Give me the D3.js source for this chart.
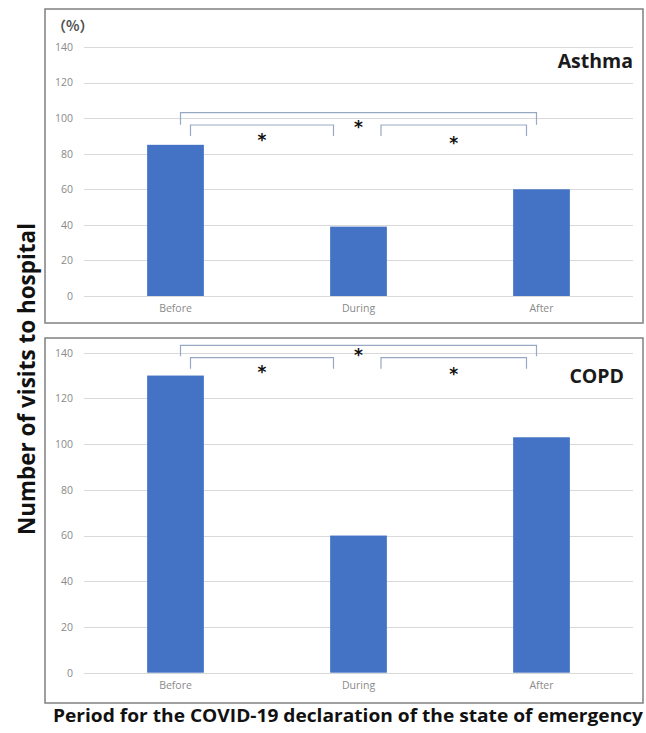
<!DOCTYPE html>
<html>
<head>
<meta charset="utf-8">
<script src="https://cdn.jsdelivr.net/npm/d3@7"></script>
<style>
  html, body { margin: 0; padding: 0; background: #ffffff; }
  svg { display: block; }
</style>
</head>
<body>
<svg id="chart" width="646" height="733"></svg>
<script>
// ---------------- data ----------------
const categories = ["Before", "During", "After"];
const asthmaValues = [85, 39, 60];
const copdValues = [130, 60, 103];
const yTicks = [0, 20, 40, 60, 80, 100, 120, 140];
const comparisons = [["Before", "During"], ["During", "After"], ["Before", "After"]];
const sigLabels = ["*", "*", "*"];
const panelTitles = ["Asthma", "COPD"];
const yAxisTitle = "Number of visits to hospital";
const xAxisTitle = "Period for the COVID-19 declaration of the state of emergency";
const unitLabel = "（%）";

// ---------------- layout ----------------
const W = 646, H = 733;
const svg = d3.select("#chart");
const FONT = "'Open Sans', 'Noto Sans', sans-serif";
const barColor = "#4472c4";
const gridColor = "#d9d9d9";
const bracketColor = "#97a9c2";

const panels = [
  { title: panelTitles[0], values: asthmaValues, box: [45, 9, 643, 323], y0: 296, y1: 47,
    titleX: 633, titleY: 68, unit: true,
    bracketY: { inner: 125, outer: 112.7 }, tickDrop: { inner: 11, outer: 12 },
    starOff: [11, 14, 10.5] },
  { title: panelTitles[1], values: copdValues, box: [45, 338, 643, 703], y0: 672.7, y1: 352.7,
    titleX: 624, titleY: 383, unit: false,
    bracketY: { inner: 357.7, outer: 345.3 }, tickDrop: { inner: 11, outer: 11 },
    starOff: [10.5, 12, 6] }
];

const x = d3.scaleBand().domain(categories).range([84, 633]).paddingInner(0.69).paddingOuter(0.345);
const cx = c => x(c) + x.bandwidth() / 2;

// bracket end offsets relative to bar centres
const bracketOffsets = [
  { level: "inner", a: 15, b: -25 },
  { level: "inner", a: 22.5, b: -15 },
  { level: "outer", a: 5, b: -5 }
];

panels.forEach(p => {
  const g = svg.append("g");
  const y = d3.scaleLinear().domain([0, 140]).range([p.y0, p.y1]);

  // box
  g.append("rect")
    .attr("x", p.box[0]).attr("y", p.box[1])
    .attr("width", p.box[2] - p.box[0]).attr("height", p.box[3] - p.box[1])
    .attr("fill", "#fff").attr("stroke", "#808080").attr("stroke-width", 1.5);

  // grid
  g.selectAll(".grid").data(yTicks).enter().append("line")
    .attr("x1", 84).attr("x2", 633)
    .attr("y1", d => Math.round(y(d)) + 0.5).attr("y2", d => Math.round(y(d)) + 0.5)
    .attr("stroke", gridColor).attr("stroke-width", 1);

  // y axis tick labels
  const yAxis = d3.axisLeft(y).tickValues(yTicks).tickSize(0).tickPadding(0);
  const ya = g.append("g").attr("transform", "translate(73,0)").call(yAxis);
  ya.select(".domain").remove();
  ya.selectAll("text").attr("font-family", FONT).attr("font-size", 10.5).attr("fill", "#8a8a8a");

  // x axis labels
  const xAxis = d3.axisBottom(x).tickSize(0).tickPadding(0);
  const xa = g.append("g").attr("transform", `translate(0,${p.y0 + 9})`).call(xAxis);
  xa.select(".domain").remove();
  xa.selectAll("text").attr("font-family", FONT).attr("font-size", 10.5).attr("fill", "#8a8a8a");

  // bars
  g.selectAll(".bar").data(categories).enter().append("rect")
    .attr("x", c => x(c))
    .attr("width", x.bandwidth())
    .attr("y", (c, i) => y(p.values[i]))
    .attr("height", (c, i) => y(0) - y(p.values[i]))
    .attr("fill", barColor);

  // title
  g.append("text").attr("x", p.titleX).attr("y", p.titleY)
    .attr("text-anchor", "end").attr("font-family", FONT).attr("font-weight", 700)
    .attr("font-size", 19.5).attr("fill", "#1a1a1a").text(p.title);

  if (p.unit) {
    g.append("text").attr("x", 52).attr("y", 31)
      .attr("font-family", "'Noto Sans CJK JP', sans-serif").attr("font-size", 14)
      .attr("font-weight", 700)
      .attr("fill", "#505050").text(unitLabel);
  }

  // significance brackets
  comparisons.forEach((cmp, i) => {
    const off = bracketOffsets[i];
    const xa1 = cx(cmp[0]) + off.a, xb1 = cx(cmp[1]) + off.b;
    const by = p.bracketY[off.level], drop = p.tickDrop[off.level];
    g.append("path")
      .attr("d", `M${xa1},${by + drop} L${xa1},${by} L${xb1},${by} L${xb1},${by + drop}`)
      .attr("fill", "none").attr("stroke", bracketColor).attr("stroke-width", 1.2);
    const starY = by + p.starOff[i];
    g.append("text").attr("x", (xa1 + xb1) / 2).attr("y", starY + 10)
      .attr("text-anchor", "middle").attr("font-family", "'DejaVu Sans', sans-serif")
      .attr("font-weight", 700).attr("font-size", 17).attr("fill", "#111").text(sigLabels[i]);
  });
});

// axis titles
svg.append("text")
  .attr("transform", "translate(35,379) rotate(-90)")
  .attr("text-anchor", "middle").attr("font-family", FONT).attr("font-weight", 700)
  .attr("font-size", 22.5).attr("textLength", 312).attr("lengthAdjust", "spacingAndGlyphs")
  .attr("fill", "#111").text(yAxisTitle);

svg.append("text")
  .attr("x", 348).attr("y", 722)
  .attr("text-anchor", "middle").attr("font-family", FONT).attr("font-weight", 700)
  .attr("font-size", 17.5).attr("textLength", 590).attr("lengthAdjust", "spacingAndGlyphs")
  .attr("fill", "#111").text(xAxisTitle);
</script>
</body>
</html>
